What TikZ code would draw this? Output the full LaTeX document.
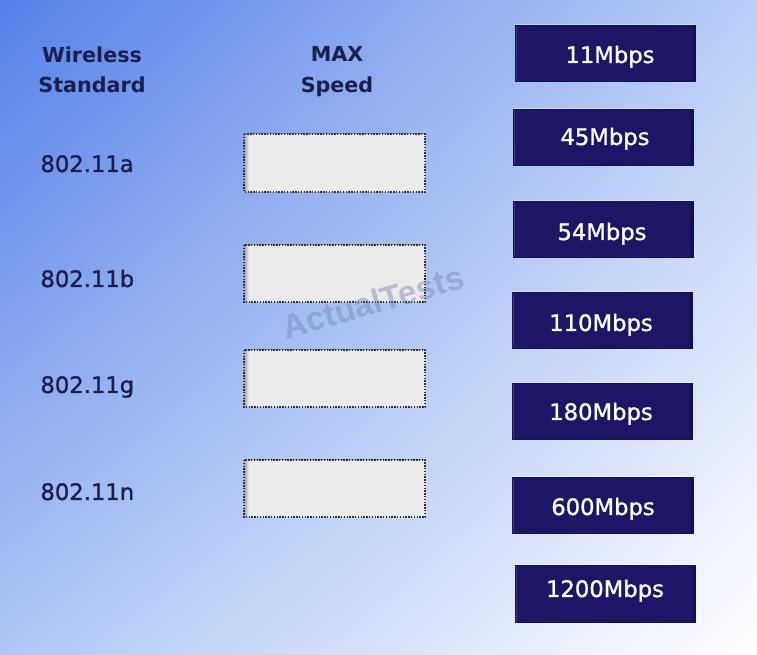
\documentclass[tikz,border=0pt]{standalone}
\usepackage{fontspec}
\usetikzlibrary{shadings}
\setmainfont{DejaVu Sans}
\newfontfamily\markfont{Liberation Sans}
\newfontfamily\stdfont[FakeBold=1.2]{DejaVu Sans}
\definecolor{bgtl}{RGB}{84,128,232}
\definecolor{bgtr}{RGB}{185,205,246}
\definecolor{bgbl}{RGB}{175,198,245}
\definecolor{bgbr}{RGB}{255,255,255}
\definecolor{btnnavy}{RGB}{29,21,102}
\definecolor{ansgray}{RGB}{235,235,235}
\definecolor{dotgray}{RGB}{50,50,60}
\definecolor{labelink}{RGB}{26,30,75}
\definecolor{markgray}{RGB}{120,135,175}

\tikzset{every picture/.style={line width=0.75pt}}
\tikzset{
  speedbtn/.style={fill=btnnavy, draw=btnnavy!80!black, line width=0.5pt,
    path picture={
      \fill[white, opacity=0.4] (path picture bounding box.north west) rectangle ([yshift=-2.5pt]path picture bounding box.north east);
      \fill[black, opacity=0.6] ([yshift=2.5pt]path picture bounding box.south west) rectangle (path picture bounding box.south east);
      \fill[white, opacity=0.15] (path picture bounding box.north west) rectangle ([xshift=1.5pt]path picture bounding box.south west);
      \fill[black, opacity=0.3] ([xshift=-1.5pt]path picture bounding box.north east) rectangle (path picture bounding box.south east);
    }},
  btntext/.style={anchor=base, inner sep=0.75pt, text=white, font=\stdfont\fontsize{17}{20}\selectfont},
  ansbox/.style={fill=ansgray, draw=dotgray, densely dotted, line width=1.1pt,
    path picture={
      \shade[top color=black!55, bottom color=ansgray] (path picture bounding box.north west) rectangle ([yshift=-4.5pt]path picture bounding box.north east);
      \shade[left color=black!45, right color=ansgray, opacity=0.8] (path picture bounding box.north west) rectangle ([xshift=3.5pt]path picture bounding box.south west);
    }},
  headtext/.style={inner sep=0.75pt, text=labelink, align=center, font=\bfseries\fontsize{15.5}{23}\selectfont},
  stdtext/.style={anchor=base west, inner sep=0.75pt, text=labelink, font=\stdfont\fontsize{17}{20}\selectfont}
}

\begin{document}
\begin{tikzpicture}[x=0.75pt,y=0.75pt,yscale=-1,xscale=1]
%set diagram at 757 x 655
\useasboundingbox (0,0) rectangle (757,655);

%Background
\shade [upper left=bgtl, upper right=bgtr, lower left=bgbl, lower right=bgbr] (0,0) rectangle (757,655);

% Column heads
\draw (92,45) node [anchor=north][headtext] (hstd) {Wireless\\Standard};
\draw (337,45) node [anchor=north][headtext] (hspd) {MAX\\Speed};

% Standards
\draw (39,172) node [stdtext] (sa) {802.11a};
\draw (39,287) node [stdtext] (sb) {802.11b};
\draw (39,393) node [stdtext] (sg) {802.11g};
\draw (39,500) node [stdtext] (sn) {802.11n};

% Answer boxes
\draw [ansbox] (244,134) rectangle (425,192) ;
\draw [ansbox] (244,245) rectangle (425,302) ;
\draw [ansbox] (244,350) rectangle (425,407) ;
\draw [ansbox] (244,460) rectangle (425,517) ;

% Watermark
\draw (373,302) node [inner sep=0.75pt, rotate=16, text=markgray, opacity=0.45, font=\markfont\bfseries\fontsize{25}{28}\selectfont] (mark) {ActualTests};

% Speed buttons
\draw [speedbtn] (515,25) rectangle (695,81) ;
\draw (610,63) node [btntext] (b11) {11Mbps};
\draw [speedbtn] (513,109) rectangle (693,165) ;
\draw (605,145) node [btntext] (b45) {45Mbps};
\draw [speedbtn] (513,201) rectangle (693,257) ;
\draw (602,240) node [btntext] (b54) {54Mbps};
\draw [speedbtn] (512,292) rectangle (692,348) ;
\draw (601,331) node [btntext] (b110) {110Mbps};
\draw [speedbtn] (512,383) rectangle (692,439) ;
\draw (601,420) node [btntext] (b180) {180Mbps};
\draw [speedbtn] (512,477) rectangle (693,533) ;
\draw (603,515) node [btntext] (b600) {600Mbps};
\draw [speedbtn] (515,565) rectangle (695,622) ;
\draw (605,597) node [btntext] (b1200) {1200Mbps};

\end{tikzpicture}
\end{document}
